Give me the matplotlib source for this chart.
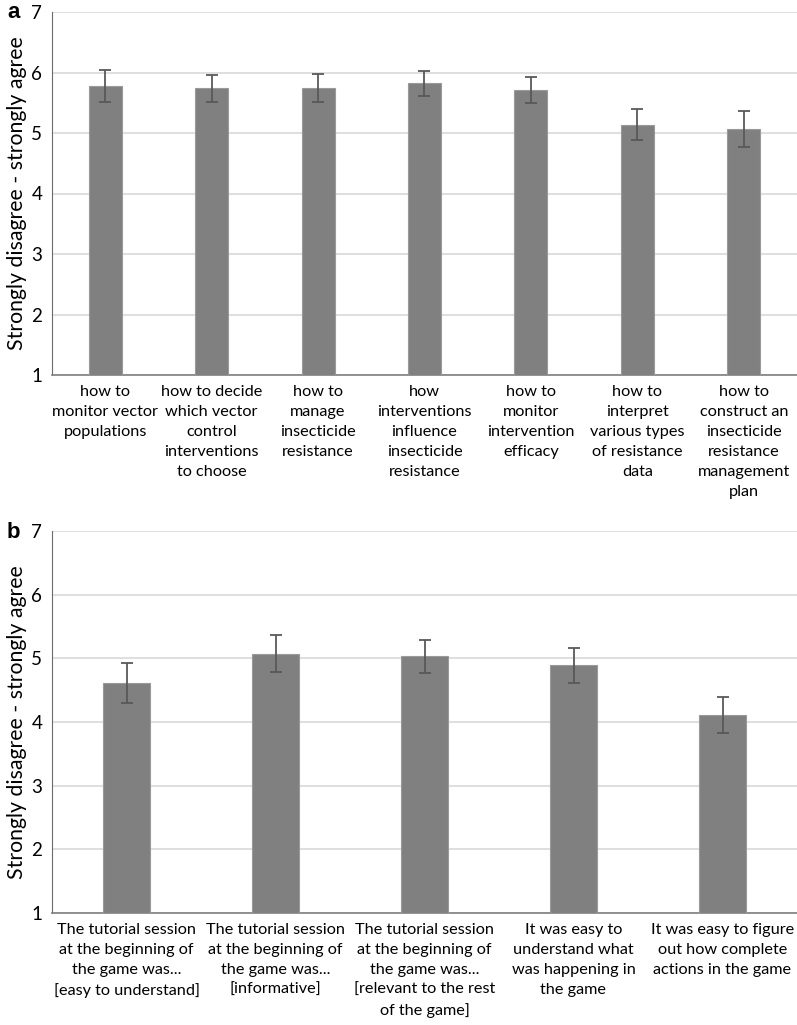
import numpy as np
import matplotlib.pyplot as plt

plt.rcParams['font.family'] = ['Lato', 'DejaVu Sans']

# panel a
labels_a = ["how to\nmonitor vector\npopulations",
            "how to decide\nwhich vector\ncontrol\ninterventions\nto choose",
            "how to\nmanage\ninsecticide\nresistance",
            "how\ninterventions\ninfluence\ninsecticide\nresistance",
            "how to\nmonitor\nintervention\nefficacy",
            "how to\ninterpret\nvarious types\nof resistance\ndata",
            "how to\nconstruct an\ninsecticide\nresistance\nmanagement\nplan"]
means_a = [5.78, 5.74, 5.75, 5.82, 5.71, 5.14, 5.07]
err_a = [0.26, 0.22, 0.23, 0.21, 0.22, 0.25, 0.30]

# panel b
labels_b = ["The tutorial session\nat the beginning of\nthe game was...\n[easy to understand]",
            "The tutorial session\nat the beginning of\nthe game was...\n[informative]",
            "The tutorial session\nat the beginning of\nthe game was...\n[relevant to the rest\nof the game]",
            "It was easy to\nunderstand what\nwas happening in\nthe game",
            "It was easy to figure\nout how complete\nactions in the game"]
means_b = [4.61, 5.07, 5.03, 4.89, 4.11]
err_b = [0.31, 0.29, 0.26, 0.28, 0.29]

W, H = 797, 1025
fig = plt.figure(figsize=(W / 100, H / 100), dpi=100)


def draw(top, bottom, labels, means, errs, letter):
    ax = fig.add_axes([52 / W, 1 - bottom / H, 745 / W, (bottom - top) / H])
    x = np.arange(len(labels))
    ax.bar(x, np.array(means) - 1, bottom=1, width=0.31, color='#808080',
           edgecolor='#9a9a9a', linewidth=0.8, zorder=3)
    ax.errorbar(x, means, yerr=errs, fmt='none', ecolor='#595959',
                elinewidth=1.3, capsize=4.5, capthick=1.3, zorder=4)
    ax.set_xlim(-0.5, len(labels) - 0.5)
    ax.set_ylim(1, 7)
    ax.set_yticks(range(1, 8))
    ax.set_xticks(x)
    ax.set_xticklabels(labels, fontsize=11.7, linespacing=1.55)
    ax.tick_params(axis='x', length=0, pad=7)
    ax.tick_params(axis='y', length=0, labelsize=13.5, pad=7)
    ax.yaxis.grid(True, color='#d9d9d9', linewidth=1.2, zorder=0)
    ax.set_axisbelow(True)
    for s in ['top', 'right']:
        ax.spines[s].set_visible(False)
    ax.spines['left'].set_color('#6b6b6b')
    ax.spines['bottom'].set_color('#7f7f7f')
    ax.spines['bottom'].set_linewidth(1.2)
    fig.text(17 / W, 1 - (top + bottom) / 2 / H, 'Strongly disagree - strongly agree',
             rotation=90, ha='center', va='center', fontsize=15.3)
    fig.text(7 / W, 1 - (top + 1) / H, letter, ha='left', va='center',
             fontsize=16, fontweight='bold', family='Liberation Sans')
    return ax


draw(12, 375, labels_a, means_a, err_a, 'a')
draw(531, 913, labels_b, means_b, err_b, 'b')

fig.savefig('out.png', dpi=100)
